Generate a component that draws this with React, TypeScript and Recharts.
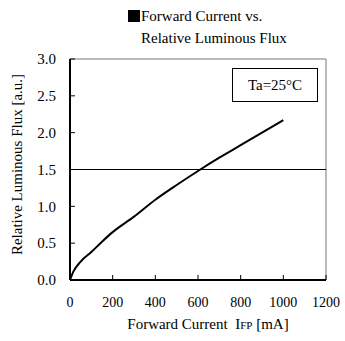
import React from 'react';
import { LineChart, Line, XAxis, YAxis, ReferenceLine } from 'recharts';

const CURRENT_MA = [0, 15, 50, 100, 150, 200, 300, 400, 500, 600, 700, 800, 900, 1000];
const REL_FLUX = [0, 0.11, 0.25, 0.38, 0.52, 0.65, 0.86, 1.09, 1.29, 1.48, 1.66, 1.83, 2.0, 2.17];
const X_TICKS = [0, 200, 400, 600, 800, 1000, 1200];
const Y_TICKS = [0, 0.5, 1.0, 1.5, 2.0, 2.5, 3.0];

const data = CURRENT_MA.map((c, i) => ({ current: c, flux: REL_FLUX[i] }));

const FONT = '"Liberation Serif", serif';

const YTick = (props: any) => {
  const { x, y, payload } = props;
  return (
    <g>
      <line x1={x + 14} x2={x + 19} y1={y} y2={y} stroke="#000" strokeWidth={1} />
      <text x={x} y={y} dy="0.35em" textAnchor="end" fontSize={15} fontFamily={FONT} fill="#000">
        {Number(payload.value).toFixed(1)}
      </text>
    </g>
  );
};

const XTick = (props: any) => {
  const { x, y, payload } = props;
  return (
    <g>
      <line x1={x} x2={x} y1={y - 17} y2={y - 22} stroke="#000" strokeWidth={1} />
      <text x={x} y={y} dy="0.71em" textAnchor="middle" fontSize={14} fontFamily={FONT} fill="#000">
        {payload.value}
      </text>
    </g>
  );
};

export default function App() {
  return (
    <div style={{ position: 'absolute', left: 0, top: 0, width: 345, height: 341, background: '#fff' }}>
      <div
        style={{
          position: 'absolute',
          left: 128,
          top: 5,
          fontFamily: FONT,
          fontSize: 15,
          color: '#000',
          lineHeight: '22px',
        }}
      >
        <div style={{ display: 'flex', alignItems: 'center' }}>
          <span style={{ display: 'inline-block', width: 12, height: 12, background: '#000', marginRight: 1 }} />
          <span>Forward Current vs.</span>
        </div>
        <div style={{ paddingLeft: 13 }}>Relative Luminous Flux</div>
      </div>
      <LineChart width={345} height={341} data={data} margin={{ top: 59, right: 19, bottom: 31, left: 10 }}>
        <XAxis
          dataKey="current"
          type="number"
          domain={[0, 1200]}
          ticks={X_TICKS}
          height={30}
          tickSize={0}
          tickMargin={17}
          tick={<XTick />}
          axisLine={{ stroke: '#000', strokeWidth: 2 }}
          label={{
            content: (p: any) => {
              const vb = p.viewBox;
              return (
                <text x={vb.x + vb.width / 2 + 10} y={329} textAnchor="middle" fontSize={15} fontFamily={FONT} fill="#000">
                  Forward Current{'\u00a0\u00a0'}
                  <tspan fontSize={15}>I</tspan>
                  <tspan fontSize={11}>FP</tspan>
                  <tspan fontSize={15}> [mA]</tspan>
                </text>
              );
            },
          }}
        />
        <YAxis
          type="number"
          domain={[0, 3]}
          ticks={Y_TICKS}
          width={60}
          tickSize={0}
          tickMargin={14}
          tick={<YTick />}
          axisLine={{ stroke: '#000', strokeWidth: 2 }}
          label={{
            content: (p: any) => {
              const vb = p.viewBox;
              const cx = 22;
              const cy = vb.y + vb.height / 2 - 5;
              return (
                <text
                  x={cx}
                  y={cy}
                  transform={`rotate(-90 ${cx} ${cy})`}
                  textAnchor="middle"
                  fontSize={15}
                  fontFamily={FONT}
                  fill="#000"
                >
                  Relative Luminous Flux [a.u.]
                </text>
              );
            },
          }}
        />
        <ReferenceLine y={3} stroke="#777" strokeWidth={1} />
        <ReferenceLine x={1200} stroke="#777" strokeWidth={1} />
        <ReferenceLine y={1.5} stroke="#000" strokeWidth={1} />
        <Line
          dataKey="flux"
          type="monotone"
          stroke="#000"
          strokeWidth={2}
          dot={false}
          isAnimationActive={false}
        />
      </LineChart>
      <div
        style={{
          position: 'absolute',
          left: 232,
          top: 68,
          width: 84,
          height: 32,
          border: '1px solid #000',
          fontFamily: FONT,
          fontSize: 15,
          display: 'flex',
          alignItems: 'center',
          justifyContent: 'center',
          background: '#fff',
        }}
      >
        Ta=25°C
      </div>
    </div>
  );
}
